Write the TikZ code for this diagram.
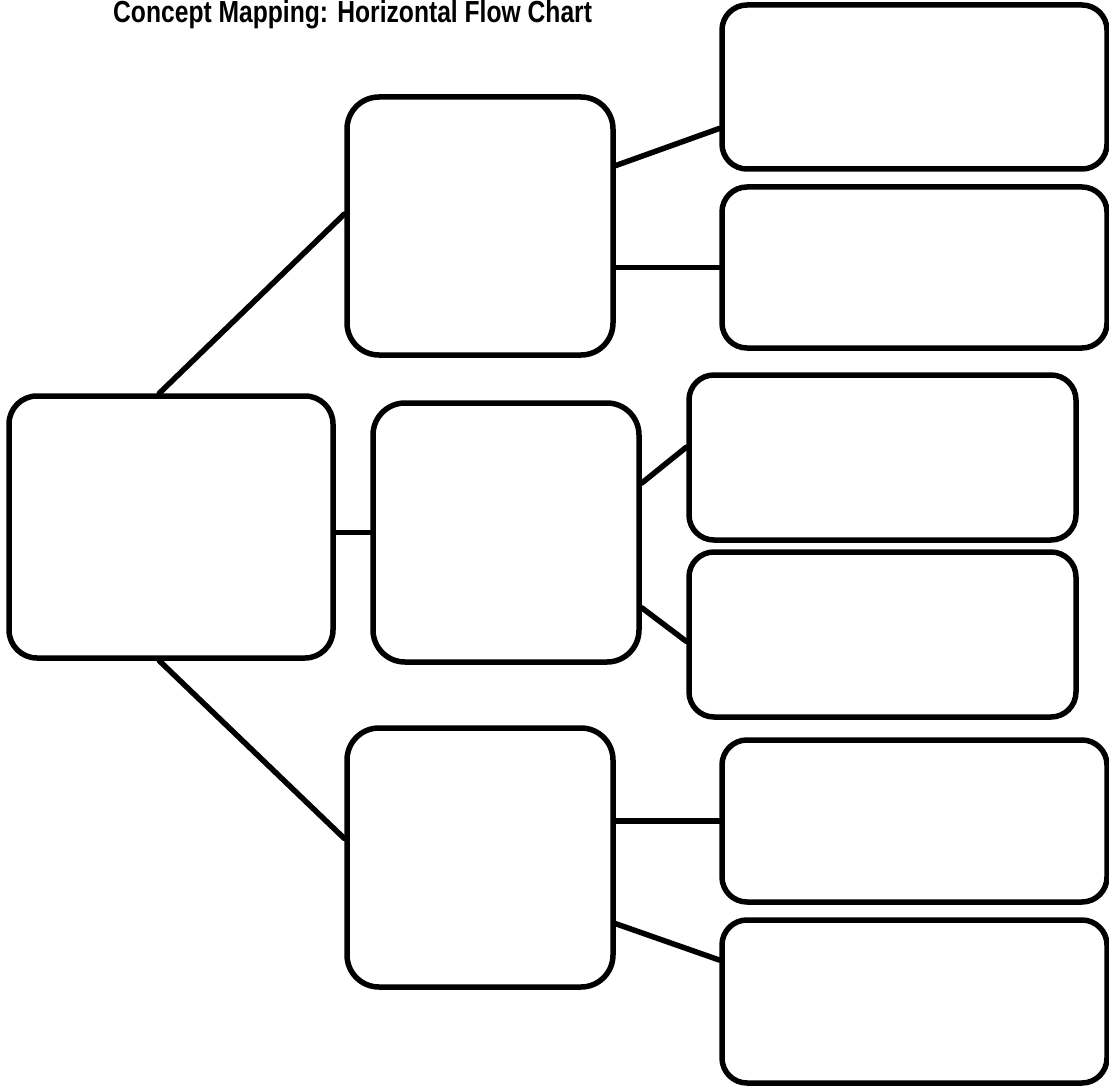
\documentclass[tikz,border=0pt]{standalone}
\usepackage{fontspec}
\setmainfont{Liberation Sans}
\usepackage{tikz}
\tikzset{
    concept/.style={draw, line width=5.5pt, rounded corners=#1, inner sep=0pt},
    concept/.default=30pt,
    link/.style={line width=5.5pt, line cap=round},
}

\begin{document}
\begin{tikzpicture}[x=1pt, y=-1pt]
    \useasboundingbox (0,0) rectangle (1109,1086);
    \node[anchor=base west, inner sep=0pt] (title) at (113,23)
        {\scalebox{0.85}[1.05]{\fontsize{29}{29}\selectfont\bfseries Concept Mapping: Horizontal Flow Chart}};

    \node[concept=28pt, minimum width=324pt, minimum height=262pt] (root) at (171,527) {};

    \node[concept=32pt, minimum width=266pt, minimum height=258pt] (A) at (480,226) {};
    \node[concept=32pt, minimum width=266pt, minimum height=259pt] (B) at (506,532.5) {};
    \node[concept=32pt, minimum width=266pt, minimum height=259pt] (C) at (480,857.5) {};

    \node[concept=25pt, minimum width=385pt, minimum height=164pt] (A1) at (914.5,87) {};
    \node[concept=25pt, minimum width=385pt, minimum height=161pt] (A2) at (914.5,267.5) {};
    \node[concept=25pt, minimum width=387pt, minimum height=165pt] (B1) at (882.5,457.5) {};
    \node[concept=25pt, minimum width=387pt, minimum height=165pt] (B2) at (882.5,634.5) {};
    \node[concept=25pt, minimum width=385pt, minimum height=162pt] (C1) at (914.5,821) {};
    \node[concept=25pt, minimum width=385pt, minimum height=163pt] (C2) at (914.5,1001.5) {};

    \draw[link] (root.95) -- (A.175);
    \draw[link] (B.west) -- (B.west -| root.east);
    \draw[link] (root.265) -- (C.172);

    \draw[link] (A.24) -- (A1.192);
    \draw[link] (A2.west) -- (A2.west -| A.east);
    \draw[link] (B.20) -- (B1.177);
    \draw[link] (B.331) -- (B2.182);
    \draw[link] (C1.west) -- (C1.west -| C.east);
    \draw[link] (C.334) -- (C2.168);
\end{tikzpicture}
\end{document}
